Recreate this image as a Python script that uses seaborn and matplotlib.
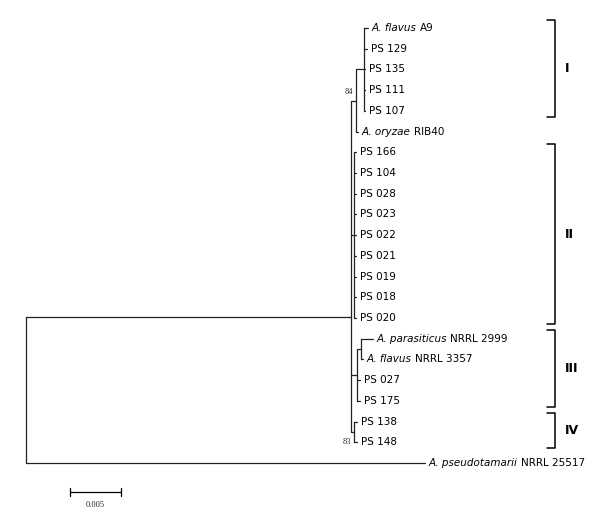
import matplotlib
matplotlib.use("Agg")
import matplotlib.pyplot as plt
import seaborn as sns

sns.set_theme(style="white")
plt.rcParams['font.family'] = ['DejaVu Sans']

K = 0.005 / 51.0  # substitutions per pixel in reference

tip_names = ["A. flavus|A9", "|PS 129", "|PS 135", "|PS 111", "|PS 107", "A. oryzae|RIB40",
             "|PS 166", "|PS 104", "|PS 028", "|PS 023", "|PS 022", "|PS 021", "|PS 019", "|PS 018", "|PS 020",
             "A. parasiticus|NRRL 2999", "A. flavus|NRRL 3357", "|PS 027", "|PS 175",
             "|PS 138", "|PS 148", "A. pseudotamarii|NRRL 25517"]
tip_bl = [4, 3, 1, 1, 1, 2, 2, 2, 2, 2, 2, 2, 2, 2, 2, 12, 2, 3, 3, 3, 3, 399]
node_bl = {"ingroup": 325, "I": 5, "Ia": 8, "II": 3, "III": 6, "IIIa": 4, "IV": 3}
support = {"I": "84", "IV": "83"}

def T(i):
    return ("tip", tip_bl[i] * K, i)

tree = ("root", 0, [
    ("ingroup", node_bl["ingroup"] * K, [
        ("I", node_bl["I"] * K, [("Ia", node_bl["Ia"] * K, [T(0), T(1), T(2), T(3), T(4)]), T(5)]),
        ("II", node_bl["II"] * K, [T(i) for i in range(6, 15)]),
        ("III", node_bl["III"] * K, [("IIIa", node_bl["IIIa"] * K, [T(15), T(16)]), T(17), T(18)]),
        ("IV", node_bl["IV"] * K, [T(19), T(20)]),
    ]),
    T(21),
])

fig = plt.figure(figsize=(5.92, 5.18), dpi=100)
ax = fig.add_axes([0, 0, 1, 1])
ax.set_xlim(-26 * K, (592 - 26) * K)
ax.set_ylim(21 + 55 / 20.7, -28 / 20.7)
ax.axis("off")
lc = "#222222"
r = fig.canvas.get_renderer()

def draw(node, x0):
    name, bl, kids = node
    x = x0 + bl
    if name == "tip":
        i = kids
        y = i
        ax.plot([x0, x], [y, y], color=lc, lw=0.9)
        sp, plain = tip_names[i].split("|")
        tx = x + 4 * K
        if sp:
            t = ax.text(tx, y, sp, style="italic", fontsize=7.5, va="center", ha="left", color="black")
            bb = t.get_window_extent(renderer=r)
            tx = ax.transData.inverted().transform((bb.x1 + 3, 0))[0]
        ax.text(tx, y, plain, fontsize=7.5, va="center", ha="left", color="black")
        return y
    ys = [draw(k, x) for k in kids]
    if name == "ingroup":
        y = sum(ys) / len(ys) + 1.5
    else:
        y = (min(ys) + max(ys)) / 2
    ax.plot([x, x], [min(ys), max(ys)], color=lc, lw=0.9)
    ax.plot([x0, x], [y, y], color=lc, lw=0.9)
    if name in support:
        ax.text(x - 3 * K, y + (0.5 if name == "IV" else -0.4), support[name],
                fontsize=6, ha="right", va="center", family="Liberation Serif")
    return y

draw(tree, 0)

clades = [("I", 0, 4), ("II", 6, 14), ("III", 15, 18), ("IV", 19, 20)]
bx = (555 - 26) * K
for lab, a, b in clades:
    y0, y1 = a - 0.4, b + 0.3
    ax.plot([bx - 8 * K, bx, bx, bx - 8 * K], [y0, y0, y1, y1], color="black", lw=1.1)
    ax.text(bx + 10 * K, (y0 + y1) / 2, lab, fontweight="bold", fontsize=9, va="center", ha="left", color="black")

sx = (70 - 26) * K
sy = (492 - 28) / 20.7
ax.plot([sx, sx + 0.005], [sy, sy], color="black", lw=0.9)
ax.plot([sx, sx], [sy - 0.2, sy + 0.2], color="black", lw=0.9)
ax.plot([sx + 0.005, sx + 0.005], [sy - 0.2, sy + 0.2], color="black", lw=0.9)
ax.text(sx + 0.0025, sy + 0.6, "0.005", fontsize=6, ha="center", va="center", family="Liberation Serif")

fig.savefig("out.png", dpi=100)
